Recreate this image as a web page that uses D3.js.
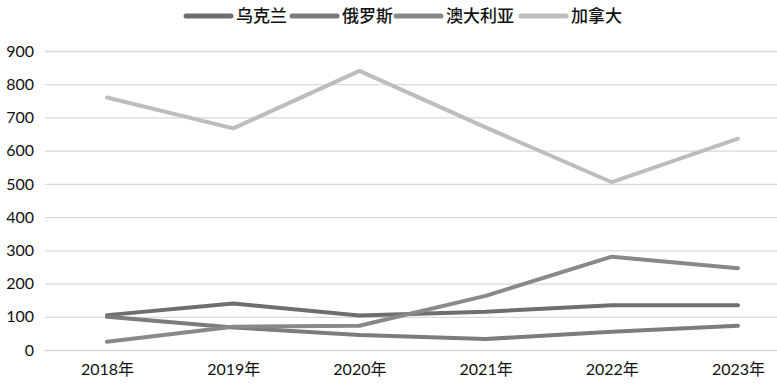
<!DOCTYPE html>
<html><head><meta charset="utf-8">
<script src="https://cdn.jsdelivr.net/npm/d3@7"></script>
<style>body{margin:0;background:#fff}svg{display:block}</style>
</head><body>
<svg id="c" width="777" height="390"></svg>
<script>
const categories = ["2018年","2019年","2020年","2021年","2022年","2023年"];
const seriesNames = ["乌克兰","俄罗斯","澳大利亚","加拿大"];
const ukraine   = [105,140,104,115,135,135];
const russia    = [100,68,45,33,55,73];
const australia = [25,70,73,163,281,246];
const canada    = [760,667,840,670,505,636];
const yTicks = [0,100,200,300,400,500,600,700,800,900];
const colors = ["#6e6e6e","#7c7c7c","#898989","#bdbdbd"];
const series = [ukraine, russia, australia, canada];

const svg = d3.select("#c");
const font = "Lato, 'Noto Sans CJK SC', sans-serif";
const x = d3.scalePoint().domain(categories).range([107,738]);
const y = d3.scaleLinear().domain([0,900]).range([350,51]);

const yAxis = d3.axisLeft(y).tickValues(yTicks).tickSize(0).tickPadding(11).tickFormat(d3.format("d"));
const gy = svg.append("g").attr("transform","translate(45,0)").call(yAxis);
gy.select(".domain").remove();
gy.selectAll(".tick line").remove();
gy.selectAll(".tick").append("line").attr("x1",0).attr("x2",740).attr("stroke","#d9d9d9").attr("stroke-width",1.3);
gy.selectAll(".tick text").attr("font-family",font).attr("font-size",16).attr("fill","#111");

const xAxis = d3.axisBottom(x).tickSize(0).tickPadding(14);
const gx = svg.append("g").attr("transform","translate(0,350)").call(xAxis);
gx.select(".domain").remove();
gx.selectAll(".tick text").attr("font-family",font).attr("font-size",16).attr("fill","#111");

const line = d3.line().x((d,i)=>x(categories[i])).y(d=>y(d));
series.forEach((s,k)=>{
  svg.append("path").datum(s).attr("d",line).attr("fill","none")
    .attr("stroke",colors[k]).attr("stroke-width",4).attr("stroke-linejoin","round").attr("stroke-linecap","round");
});

const legX = [186,292,396,521];
seriesNames.forEach((n,k)=>{
  const g = svg.append("g").attr("transform",`translate(${legX[k]},16)`);
  g.append("line").attr("x1",0).attr("x2",45).attr("stroke",colors[k]).attr("stroke-width",5).attr("stroke-linecap","round");
  g.append("text").attr("x",50).attr("y",6).text(n).attr("font-family",font).attr("font-size",17).attr("font-weight",500).attr("fill","#111");
});
</script>
</body></html>
